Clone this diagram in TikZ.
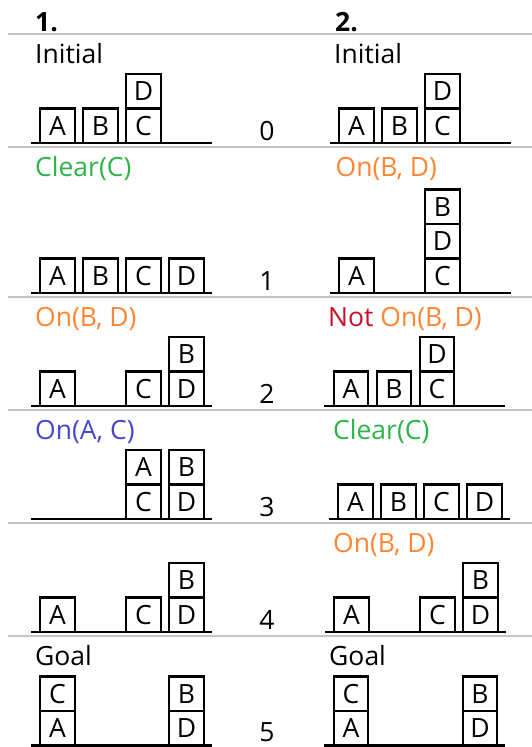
\documentclass[tikz,border=0pt]{standalone}
\usepackage{fontspec}
\setmainfont{Open Sans}
\definecolor{cgreen}{HTML}{2DB34A}
\definecolor{corange}{HTML}{FF8533}
\definecolor{cblue}{HTML}{4646CF}
\definecolor{cred}{HTML}{C8102E}
\definecolor{cgrey}{HTML}{C4C4C4}
\newcommand{\blkk}[6]{\node[blk] (#1) at ({#2+17.25+43*#3},{#4-17.25-34.5*#5}) {#6};}
\newcommand{\gnd}[3]{\coordinate (#1l) at ({#2-9.5},#3); \coordinate (#1r) at ({#2+171.5},#3); \draw[gline] (#1l) -- (#1r);}
\begin{document}
\begin{tikzpicture}[x=1pt,y=-1pt,
  blk/.style={draw, line width=2.1pt, minimum size=34.5pt, inner sep=0pt, font=\fontsize{26.5}{30}\selectfont},
  gline/.style={line width=2.3pt},
  sepline/.style={draw=cgrey, line width=1.2pt},
  lbl/.style={inner sep=0pt, anchor=base west, font=\fontsize{26.5}{30}\selectfont},
  num/.style={inner sep=0pt, anchor=base, font=\fontsize{26.5}{30}\selectfont}]
\useasboundingbox (0,0) rectangle (532,747);
% headers
\node[lbl, font=\fontsize{26.5}{30}\selectfont\bfseries] (h1) at (35,31) {1.};
\node[lbl, font=\fontsize{26.5}{30}\selectfont\bfseries] (h2) at (335,31) {2.};
% separator lines
\foreach \yy/\nm in {34/s0,147/s1,297/s2,410/s3,523/s4,636/s5}{
  \coordinate (\nm l) at (8,\yy); \coordinate (\nm r) at (532,\yy);
  \draw[sepline] (\nm l) -- (\nm r);
}
% ---------- Row 0 ----------
\node[lbl] (l0a) at (35,63) {Initial};
\gnd{g0a}{40.3}{143}
\blkk{r0aA}{40.3}{0}{143}{0}{A}
\blkk{r0aB}{40.3}{1}{143}{0}{B}
\blkk{r0aC}{40.3}{2}{143}{0}{C}
\blkk{r0aD}{40.3}{2}{143}{1}{D}
\node[num] (n0) at (267,140) {0};
\node[lbl] (l0b) at (334,63) {Initial};
\gnd{g0b}{339.3}{143}
\blkk{r0bA}{339.3}{0}{143}{0}{A}
\blkk{r0bB}{339.3}{1}{143}{0}{B}
\blkk{r0bC}{339.3}{2}{143}{0}{C}
\blkk{r0bD}{339.3}{2}{143}{1}{D}
% ---------- Row 1 ----------
\node[lbl, text=cgreen] (l1a) at (35,176) {Clear(C)};
\gnd{g1a}{40.3}{293}
\blkk{r1aA}{40.3}{0}{293}{0}{A}
\blkk{r1aB}{40.3}{1}{293}{0}{B}
\blkk{r1aC}{40.3}{2}{293}{0}{C}
\blkk{r1aD}{40.3}{3}{293}{0}{D}
\node[num] (n1) at (267,290) {1};
\node[lbl, text=corange] (l1b) at (335.5,176) {On(B, D)};
\gnd{g1b}{339.3}{293}
\blkk{r1bA}{339.3}{0}{293}{0}{A}
\blkk{r1bC}{339.3}{2}{293}{0}{C}
\blkk{r1bD}{339.3}{2}{293}{1}{D}
\blkk{r1bB}{339.3}{2}{293}{2}{B}
% ---------- Row 2 ----------
\node[lbl, text=corange] (l2a) at (35,326) {On(B, D)};
\gnd{g2a}{40.3}{406}
\blkk{r2aA}{40.3}{0}{406}{0}{A}
\blkk{r2aC}{40.3}{2}{406}{0}{C}
\blkk{r2aD}{40.3}{3}{406}{0}{D}
\blkk{r2aB}{40.3}{3}{406}{1}{B}
\node[num] (n2) at (267,403) {2};
\node[lbl] (l2b) at (328,326) {\textcolor{cred}{Not} \textcolor{corange}{On(B, D)}};
\gnd{g2b}{333.8}{406}
\blkk{r2bA}{333.8}{0}{406}{0}{A}
\blkk{r2bB}{333.8}{1}{406}{0}{B}
\blkk{r2bC}{333.8}{2}{406}{0}{C}
\blkk{r2bD}{333.8}{2}{406}{1}{D}
% ---------- Row 3 ----------
\node[lbl, text=cblue] (l3a) at (35,439) {On(A, C)};
\gnd{g3a}{40.3}{519}
\blkk{r3aC}{40.3}{2}{519}{0}{C}
\blkk{r3aA}{40.3}{2}{519}{1}{A}
\blkk{r3aD}{40.3}{3}{519}{0}{D}
\blkk{r3aB}{40.3}{3}{519}{1}{B}
\node[num] (n3) at (267,516) {3};
\node[lbl, text=cgreen] (l3b) at (333,439) {Clear(C)};
\gnd{g3b}{338.3}{519}
\blkk{r3bA}{338.3}{0}{519}{0}{A}
\blkk{r3bB}{338.3}{1}{519}{0}{B}
\blkk{r3bC}{338.3}{2}{519}{0}{C}
\blkk{r3bD}{338.3}{3}{519}{0}{D}
% ---------- Row 4 ----------
\gnd{g4a}{40.3}{632}
\blkk{r4aA}{40.3}{0}{632}{0}{A}
\blkk{r4aC}{40.3}{2}{632}{0}{C}
\blkk{r4aD}{40.3}{3}{632}{0}{D}
\blkk{r4aB}{40.3}{3}{632}{1}{B}
\node[num] (n4) at (267,629) {4};
\node[lbl, text=corange] (l4b) at (333,552) {On(B, D)};
\gnd{g4b}{334.3}{632}
\blkk{r4bA}{334.3}{0}{632}{0}{A}
\blkk{r4bC}{334.3}{2}{632}{0}{C}
\blkk{r4bD}{334.3}{3}{632}{0}{D}
\blkk{r4bB}{334.3}{3}{632}{1}{B}
% ---------- Row 5 ----------
\node[lbl] (l5a) at (35,665) {Goal};
\gnd{g5a}{40.3}{745.5}
\blkk{r5aA}{40.3}{0}{745.5}{0}{A}
\blkk{r5aC}{40.3}{0}{745.5}{1}{C}
\blkk{r5aD}{40.3}{3}{745.5}{0}{D}
\blkk{r5aB}{40.3}{3}{745.5}{1}{B}
\node[num] (n5) at (267,741.5) {5};
\node[lbl] (l5b) at (329,665) {Goal};
\gnd{g5b}{333.8}{745.5}
\blkk{r5bA}{333.8}{0}{745.5}{0}{A}
\blkk{r5bC}{333.8}{0}{745.5}{1}{C}
\blkk{r5bD}{333.8}{3}{745.5}{0}{D}
\blkk{r5bB}{333.8}{3}{745.5}{1}{B}
\end{tikzpicture}
\end{document}
